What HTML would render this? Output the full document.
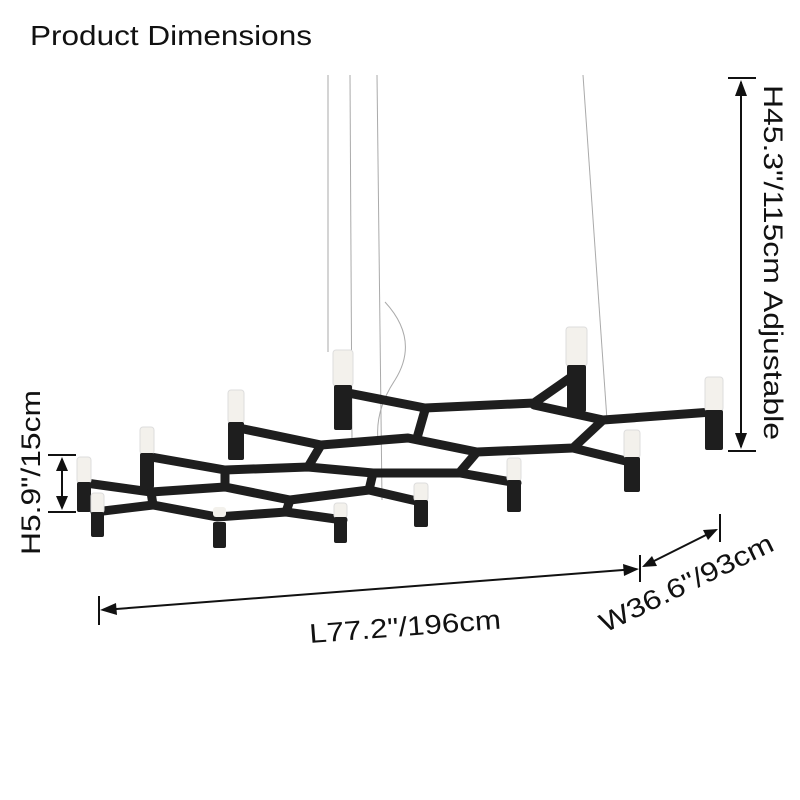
<!DOCTYPE html>
<html><head><style>
html,body{margin:0;padding:0;background:#fff;width:800px;height:800px;overflow:hidden}
svg{display:block}
text{font-family:"Liberation Sans",Arial,sans-serif;fill:#111}
</style></head><body>
<svg width="800" height="800" viewBox="0 0 800 800" xmlns="http://www.w3.org/2000/svg">
<text x="30" y="45" font-size="28" textLength="282" lengthAdjust="spacingAndGlyphs">Product Dimensions</text>
<!-- wires -->
<g stroke="#aaa" stroke-width="1" fill="none">
<line x1="328" y1="75" x2="328" y2="352"/>
<line x1="350" y1="75" x2="352" y2="440"/>
<line x1="377" y1="75" x2="382" y2="500"/>
<line x1="583" y1="75" x2="607" y2="420"/>
<path d="M385 302 Q420 340 395 380 Q375 410 378 440"/>
</g>
<!-- arms -->
<g stroke="#1e1e1e" stroke-width="9" fill="none" stroke-linejoin="round" stroke-linecap="round">
<polyline points="343,392 425,408 534,403 577,373"/>
<polyline points="534,405 603,420 712,412"/>
<polyline points="425,410 417,438"/>
<polyline points="234,427 321,445 408,438 477,452 573,448 603,420"/>
<polyline points="573,448 634,463"/>
<polyline points="321,445 308,467"/>
<polyline points="477,452 460,472"/>
<polyline points="151,457 225,470 308,467 373,473 460,473 517,483"/>
<polyline points="225,470 225,487"/>
<polyline points="373,473 369,490"/>
<polyline points="86,483 151,492 225,487 290,500 369,490 421,502"/>
<polyline points="151,492 153,505"/>
<polyline points="290,500 286,512"/>
<polyline points="95,512 153,505 217,517 286,512 343,520"/>
</g>
<!-- candles -->
<g>
<rect x="77" y="457" width="14" height="26" rx="3" fill="#f3f1ec" stroke="#ddd"/><rect x="77" y="482" width="14" height="30" rx="2" fill="#1e1e1e"/>
<rect x="140" y="427" width="14" height="27" rx="3" fill="#f3f1ec" stroke="#ddd"/><rect x="140" y="453" width="14" height="35" rx="2" fill="#1e1e1e"/>
<rect x="228" y="390" width="16" height="33" rx="3" fill="#f3f1ec" stroke="#ddd"/><rect x="228" y="422" width="16" height="38" rx="2" fill="#1e1e1e"/>
<rect x="333" y="350" width="20" height="36" rx="3" fill="#f3f1ec" stroke="#ddd"/><rect x="334" y="385" width="18" height="45" rx="2" fill="#1e1e1e"/>
<rect x="566" y="327" width="21" height="39" rx="3" fill="#f3f1ec" stroke="#ddd"/><rect x="567" y="365" width="19" height="47" rx="2" fill="#1e1e1e"/>
<rect x="705" y="377" width="18" height="34" rx="3" fill="#f3f1ec" stroke="#ddd"/><rect x="705" y="410" width="18" height="40" rx="2" fill="#1e1e1e"/>
<rect x="91" y="493" width="13" height="20" rx="3" fill="#f3f1ec" stroke="#ddd"/><rect x="91" y="512" width="13" height="25" rx="2" fill="#1e1e1e"/>
<rect x="213" y="507" width="13" height="10" rx="3" fill="#f3f1ec"/><rect x="213" y="522" width="13" height="26" rx="2" fill="#1e1e1e"/>
<rect x="334" y="503" width="13" height="15" rx="3" fill="#f3f1ec" stroke="#ddd"/><rect x="334" y="517" width="13" height="26" rx="2" fill="#1e1e1e"/>
<rect x="414" y="483" width="14" height="18" rx="3" fill="#f3f1ec" stroke="#ddd"/><rect x="414" y="500" width="14" height="27" rx="2" fill="#1e1e1e"/>
<rect x="507" y="458" width="14" height="23" rx="3" fill="#f3f1ec" stroke="#ddd"/><rect x="507" y="480" width="14" height="32" rx="2" fill="#1e1e1e"/>
<rect x="624" y="430" width="16" height="28" rx="3" fill="#f3f1ec" stroke="#ddd"/><rect x="624" y="457" width="16" height="35" rx="2" fill="#1e1e1e"/>
</g>
<!-- dimension lines -->
<g stroke="#111" stroke-width="2" fill="none">
<line x1="728" y1="78" x2="756" y2="78"/><line x1="728" y1="451" x2="756" y2="451"/>
<line x1="741" y1="82" x2="741" y2="447"/>
<line x1="48" y1="455" x2="76" y2="455"/><line x1="48" y1="512" x2="76" y2="512"/>
<line x1="62" y1="459" x2="62" y2="508"/>
<line x1="99" y1="596" x2="99" y2="625"/><line x1="640" y1="555" x2="640" y2="582"/>
<line x1="103" y1="610" x2="636" y2="569"/>
<line x1="720" y1="514" x2="720" y2="542"/>
<line x1="644" y1="566" x2="716" y2="530"/>
</g>
<g fill="#111">
<polygon points="741,80 735,96 747,96"/><polygon points="741,449 735,433 747,433"/>
<polygon points="62,457 56,471 68,471"/><polygon points="62,510 56,496 68,496"/>
<polygon points="100,610 116,603 117,615"/><polygon points="639,569 623,564 624,576"/>
<polygon points="642,567 652,556 657,566"/><polygon points="718,529 708,540 703,530"/>
</g>
<text font-size="27" transform="translate(764,85) rotate(90)" textLength="355" lengthAdjust="spacingAndGlyphs">H45.3"/115cm Adjustable</text>
<text font-size="27" transform="translate(40,555) rotate(-90)" textLength="165" lengthAdjust="spacingAndGlyphs">H5.9"/15cm</text>
<text font-size="27" transform="translate(310,643) rotate(-4.3)" textLength="192" lengthAdjust="spacingAndGlyphs">L77.2"/196cm</text>
<text font-size="27" transform="translate(605,633) rotate(-26)" textLength="190" lengthAdjust="spacingAndGlyphs">W36.6"/93cm</text>
</svg>
</body></html>
